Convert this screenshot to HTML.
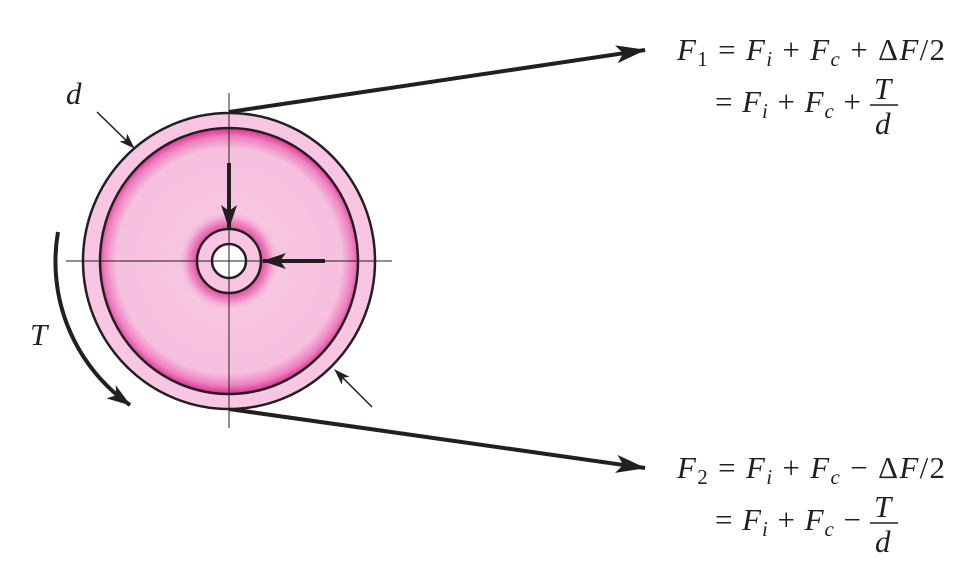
<!DOCTYPE html>
<html><head><meta charset="utf-8"><style>
html,body{margin:0;padding:0;background:#fff;}
svg{display:block;}
text{font-family:"Liberation Serif",serif;font-size:31px;fill:#231f20;}
.i{font-style:italic;}
</style></head><body>
<svg width="969" height="584" viewBox="0 0 969 584">
<defs>
<radialGradient id="disc" cx="229" cy="261" r="131" gradientUnits="userSpaceOnUse">
<stop offset="0" stop-color="#f8c8e4"/><stop offset="0.86" stop-color="#f6c0df"/><stop offset="0.95" stop-color="#ee80c0"/><stop offset="1" stop-color="#e0409a"/>
</radialGradient>
<radialGradient id="glow" cx="229" cy="261" r="50" gradientUnits="userSpaceOnUse">
<stop offset="0.6" stop-color="#e0409a"/><stop offset="0.8" stop-color="#ee8ac4"/><stop offset="1" stop-color="#f6c0df" stop-opacity="0"/>
</radialGradient>
<marker id="ah" markerWidth="16" markerHeight="11" refX="15" refY="5.5" orient="auto" markerUnits="userSpaceOnUse" viewBox="0 0 16 11"><path d="M0,0 L16,5.5 L0,11 L4,5.5 Z" fill="#231f20"/></marker>
<marker id="big" markerWidth="30" markerHeight="18" refX="29" refY="9" orient="auto" markerUnits="userSpaceOnUse" viewBox="0 0 30 18"><path d="M0,0 L30,9 L0,18 L7,9 Z" fill="#231f20"/></marker>
<marker id="thin" markerWidth="24" markerHeight="16" refX="23" refY="8" orient="auto" markerUnits="userSpaceOnUse" viewBox="0 0 24 16"><path d="M0,0 L24,8 L0,16 L6,8 Z" fill="#231f20"/></marker>
</defs>
<line x1="229" y1="112" x2="645" y2="50" stroke="#231f20" stroke-width="4" marker-end="url(#big)"/>
<line x1="229" y1="409" x2="645" y2="468" stroke="#231f20" stroke-width="4" marker-end="url(#big)"/>
<ellipse cx="229" cy="261" rx="146" ry="148" fill="#f8c6e2" stroke="#231f20" stroke-width="2.5"/>
<ellipse cx="229" cy="261" rx="129" ry="133" fill="url(#disc)" stroke="#231f20" stroke-width="2.5"/>
<circle cx="229" cy="261" r="50" fill="url(#glow)"/>
<circle cx="229" cy="261" r="32" fill="#f8c6e2" stroke="#231f20" stroke-width="2.5"/>
<circle cx="229" cy="261" r="17" fill="#fff" stroke="#231f20" stroke-width="2.5"/>
<line x1="66" y1="261" x2="392" y2="261" stroke="#231f20" stroke-width="1"/>
<line x1="229" y1="93" x2="229" y2="428" stroke="#231f20" stroke-width="1"/>
<line x1="229" y1="163" x2="229" y2="228" stroke="#231f20" stroke-width="4" marker-end="url(#thin)"/>
<line x1="325" y1="261" x2="263" y2="261" stroke="#231f20" stroke-width="4" marker-end="url(#thin)"/>
<path d="M58,232 A175,175 0 0 0 130,405" fill="none" stroke="#231f20" stroke-width="4" marker-end="url(#thin)"/>
<line x1="97" y1="112" x2="134" y2="148" stroke="#231f20" stroke-width="1.5" marker-end="url(#ah)"/>
<line x1="372" y1="407" x2="335" y2="370" stroke="#231f20" stroke-width="1.5" marker-end="url(#ah)"/>
<text class="i" x="66" y="104">d</text>
<text class="i" x="30" y="345">T</text>
<g>
<text x="677" y="60" textLength="268" lengthAdjust="spacing"><tspan class="i">F</tspan><tspan font-size="21" dy="6">1</tspan><tspan dy="-6"> = </tspan><tspan class="i">F</tspan><tspan class="i" font-size="21" dy="6">i</tspan><tspan dy="-6"> + </tspan><tspan class="i">F</tspan><tspan class="i" font-size="21" dy="6">c</tspan><tspan dy="-6"> + Δ</tspan><tspan class="i">F</tspan><tspan>/2</tspan></text>
<text x="715" y="112" textLength="146" lengthAdjust="spacing">= <tspan class="i">F</tspan><tspan class="i" font-size="21" dy="6">i</tspan><tspan dy="-6"> + </tspan><tspan class="i">F</tspan><tspan class="i" font-size="21" dy="6">c</tspan><tspan dy="-6"> +</tspan></text>
<text class="i" x="874" y="99">T</text>
<line x1="870" y1="105" x2="898" y2="105" stroke="#231f20" stroke-width="1.5"/>
<text class="i" x="875" y="134">d</text>
</g>
<g>
<text x="677" y="478" textLength="268" lengthAdjust="spacing"><tspan class="i">F</tspan><tspan font-size="21" dy="6">2</tspan><tspan dy="-6"> = </tspan><tspan class="i">F</tspan><tspan class="i" font-size="21" dy="6">i</tspan><tspan dy="-6"> + </tspan><tspan class="i">F</tspan><tspan class="i" font-size="21" dy="6">c</tspan><tspan dy="-6"> − Δ</tspan><tspan class="i">F</tspan><tspan>/2</tspan></text>
<text x="715" y="530" textLength="146" lengthAdjust="spacing">= <tspan class="i">F</tspan><tspan class="i" font-size="21" dy="6">i</tspan><tspan dy="-6"> + </tspan><tspan class="i">F</tspan><tspan class="i" font-size="21" dy="6">c</tspan><tspan dy="-6"> −</tspan></text>
<text class="i" x="874" y="517">T</text>
<line x1="870" y1="523" x2="898" y2="523" stroke="#231f20" stroke-width="1.5"/>
<text class="i" x="875" y="552">d</text>
</g>
</svg>
</body></html>
